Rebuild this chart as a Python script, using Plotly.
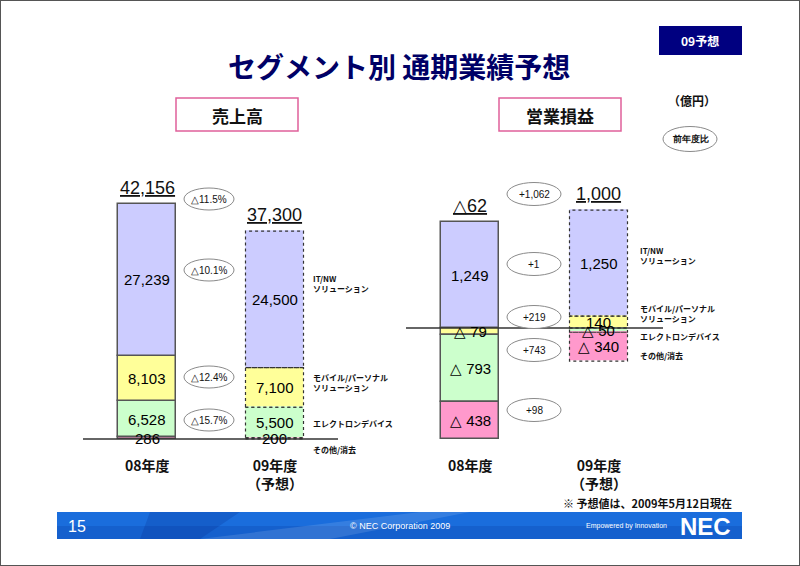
import plotly.graph_objects as go

W, H = 800, 566

# ---------------- data ----------------
categories = ["08年度", "09年度"]
category_text = ["08年度", "09年度<br>（予想）"]
segment_names = ["IT/NW<br>ソリューション", "モバイル/パーソナル<br>ソリューション",
                 "エレクトロンデバイス", "その他/消去"]

sales_it = [27239, 24500]
sales_mobile = [8103, 7100]
sales_device = [6528, 5500]
sales_other = [286, 200]
sales_total = [42156, 37300]
sales_change = ["△11.5%", "△10.1%", "△12.4%", "△15.7%"]

op_it = [1249, 1250]
op_mobile = [-79, 140]
op_device = [-793, -50]
op_other = [-438, -340]
op_total = [-62, 1000]
op_change = ["+1,062", "+1", "+219", "+743", "+98"]

seg_colors = {"it": "#ccccff", "mobile": "#ffff99", "device": "#ccffcc", "other": "#ff99cc"}

# ---------------- helpers ----------------
def px(x):
    return x / W

def py(y):
    return 1 - y / H

def fmt(v, space=True):
    if v < 0:
        return ("△ " if space else "△") + f"{-v:,}"
    return f"{v:,}"

NUM_FONT = "Liberation Sans, Arial, sans-serif"
JP_FONT = "Noto Sans CJK JP, sans-serif"

fig = go.Figure()
shapes = []
annotations = []


def ann(**kw):
    d = dict(showarrow=False, xanchor="center", yanchor="middle")
    d.update(kw)
    annotations.append(d)


def pann(x, y, text, **kw):
    ann(x=px(x), y=py(y), xref="paper", yref="paper", text=text, **kw)


# pixel geometry of the two panels
LEFT = dict(xa="x", ya="y", base_px=439, k=235 / 42156, c0=147, dx=127.5, bw=58)
RIGHT = dict(xa="x2", ya="y2", base_px=328, k=111 / 1310, c0=470, dx=128.5, bw=58)

sales_series = [("other", sales_other), ("device", sales_device),
                ("mobile", sales_mobile), ("it", sales_it)]
op_series = [("mobile", op_mobile), ("device", op_device),
             ("other", op_other), ("it", op_it)]


def add_panel(series, panel, totals):
    w = panel["bw"] / panel["dx"]
    pos = [0.0] * len(categories)
    neg = [0.0] * len(categories)
    for key, vals in series:
        fig.add_trace(go.Bar(
            x=categories, y=vals, width=[w] * len(categories),
            marker=dict(color=seg_colors[key],
                        line=dict(color=["#555555", "rgba(0,0,0,0)"], width=1.5)),
            xaxis=panel["xa"], yaxis=panel["ya"], showlegend=False,
            hoverinfo="skip"))
        for i, v in enumerate(vals):
            if v >= 0:
                b0, b1 = pos[i], pos[i] + v
                pos[i] = b1
            else:
                b0, b1 = neg[i], neg[i] + v
                neg[i] = b1
            ann(x=i, y=(b0 + b1) / 2, xref=panel["xa"], yref=panel["ya"],
                text=fmt(v), font=dict(family=NUM_FONT, size=15, color="#000000"))
            if i == 1:
                shapes.append(dict(
                    type="rect", xref=panel["xa"], yref=panel["ya"],
                    x0=i - w / 2, x1=i + w / 2, y0=b0, y1=b1,
                    line=dict(color="#333333", width=1.2, dash="dot"),
                    fillcolor="rgba(0,0,0,0)"))
    for i, t in enumerate(totals):
        ann(x=i, y=pos[i], xref=panel["xa"], yref=panel["ya"],
            text="<u>" + fmt(t, space=False) + "</u>", yanchor="bottom", yshift=4,
            font=dict(family=NUM_FONT, size=18, color="#111111"))
    for i, t in enumerate(category_text):
        ann(x=i, y=py(453), xref=panel["xa"], yref="paper", yanchor="top",
            text="<b>" + t + "</b>",
            font=dict(family=JP_FONT, size=14, color="#111111"))


add_panel(sales_series, LEFT, sales_total)
add_panel(op_series, RIGHT, op_total)


def axes_ranges(panel):
    xr = [-panel["c0"] / panel["dx"], (W - panel["c0"]) / panel["dx"]]
    yr = [-(H - panel["base_px"]) / panel["k"], panel["base_px"] / panel["k"]]
    return xr, yr

xr1, yr1 = axes_ranges(LEFT)
xr2, yr2 = axes_ranges(RIGHT)
hidden = dict(visible=False, showgrid=False, zeroline=False, fixedrange=True)

# baselines
shapes.insert(0, dict(type="line", xref="paper", yref="y", x0=px(83), x1=px(338), y0=0, y1=0,
                      line=dict(color="#333333", width=1.3)))
shapes.insert(0, dict(type="line", xref="paper", yref="y2", x0=px(406), x1=px(663), y0=0, y1=0,
                      line=dict(color="#333333", width=1.3)))


def ellipse(cx, cy, w, h, text, size=10):
    shapes.append(dict(type="circle", xref="paper", yref="paper",
                       x0=px(cx - w / 2), x1=px(cx + w / 2),
                       y0=py(cy + h / 2), y1=py(cy - h / 2),
                       line=dict(color="#8a8a8a", width=1), fillcolor="white"))
    pann(cx, cy, text, font=dict(family=NUM_FONT, size=size, color="#111111"))


for t, cy in zip(sales_change, [199, 270, 377, 420]):
    ellipse(209, cy, 50, 22, t)
for t, cy in zip(op_change, [194, 264, 317, 350, 410]):
    ellipse(534, cy, 54, 23, t)
ellipse(690, 139, 54, 25, "<b>前年度比</b>", size=9)


def seg_label(x, y, text):
    pann(x, y, "<b>" + text + "</b>", xanchor="left", align="left",
         font=dict(family=JP_FONT, size=8, color="#111111"))


for name, y in zip(segment_names, [283, 382, 423, 449]):
    seg_label(311, y, name)
for name, y in zip(segment_names, [255, 314, 336, 355]):
    seg_label(638, y, name)

# title and header boxes
pann(399, 66, "<b>セグメント別 通期業績予想</b>",
     font=dict(family=JP_FONT, size=28, color="#000066"))
shapes.append(dict(type="rect", xref="paper", yref="paper", x0=px(659), x1=px(742),
                   y0=py(55), y1=py(26), fillcolor="#000080", line=dict(width=0)))
pann(700, 41, "<b>09予想</b>", font=dict(family=JP_FONT, size=12, color="white"))
for cx, t in [(237, "売上高"), (560, "営業損益")]:
    shapes.append(dict(type="rect", xref="paper", yref="paper", x0=px(cx - 61), x1=px(cx + 61),
                       y0=py(131), y1=py(98), fillcolor="white",
                       line=dict(color="#e0609a", width=1.5)))
    pann(cx, 115, "<b>" + t + "</b>", font=dict(family=JP_FONT, size=17, color="#111111"))
pann(692, 101, "<b>（億円）</b>", font=dict(family=JP_FONT, size=12, color="#111111"))

pann(734, 503, "<b>※ 予想値は、2009年5月12日現在</b>", xanchor="right",
     font=dict(family=JP_FONT, size=11, color="#111111"))

# footer band
shapes.append(dict(type="rect", xref="paper", yref="paper", x0=px(57), x1=px(742),
                   y0=py(539), y1=py(512), fillcolor="#1a6ddc", line=dict(width=0)))
shapes.append(dict(type="rect", xref="paper", yref="paper", x0=px(57), x1=px(742),
                   y0=py(539), y1=py(526), fillcolor="rgba(0,40,140,0.18)", line=dict(width=0)))
shapes.append(dict(type="path", xref="paper", yref="paper",
                   path=f"M {px(200)},{py(539)} L {px(330)},{py(539)} L {px(470)},{py(512)} L {px(420)},{py(512)} Z",
                   fillcolor="rgba(255,255,255,0.12)", line=dict(width=0)))
shapes.append(dict(type="path", xref="paper", yref="paper",
                   path=f"M {px(140)},{py(539)} L {px(200)},{py(539)} L {px(240)},{py(512)} L {px(150)},{py(512)} Z",
                   fillcolor="rgba(0,30,120,0.18)", line=dict(width=0)))
pann(66, 526, "15", xanchor="left", font=dict(family=NUM_FONT, size=16, color="white"))
pann(400, 526, "© NEC Corporation 2009", font=dict(family=NUM_FONT, size=9, color="white"))
pann(626, 526, "Empowered by Innovation", font=dict(family=NUM_FONT, size=7, color="white"))
pann(705, 526, "<b>NEC</b>", font=dict(family=NUM_FONT, size=24, color="white"))

# slide frame
shapes.append(dict(type="rect", xref="paper", yref="paper", x0=0, x1=1, y0=0, y1=1,
                   line=dict(color="#555555", width=2), fillcolor="rgba(0,0,0,0)"))

fig.update_layout(
    width=W, height=H, margin=dict(l=0, r=0, t=0, b=0),
    paper_bgcolor="white", plot_bgcolor="white",
    barmode="relative", bargap=0, showlegend=False,
    xaxis=dict(domain=[0, 1], range=xr1, type="category", anchor="y", **hidden),
    yaxis=dict(domain=[0, 1], range=yr1, anchor="x", **hidden),
    xaxis2=dict(domain=[0, 1], range=xr2, type="category", overlaying="x", anchor="y2", **hidden),
    yaxis2=dict(domain=[0, 1], range=yr2, overlaying="y", anchor="x2", **hidden),
    shapes=shapes, annotations=annotations,
)

fig.write_html("out.html", config={"displayModeBar": False},
               post_script="document.body.style.margin='0';document.body.style.overflow='hidden';")
